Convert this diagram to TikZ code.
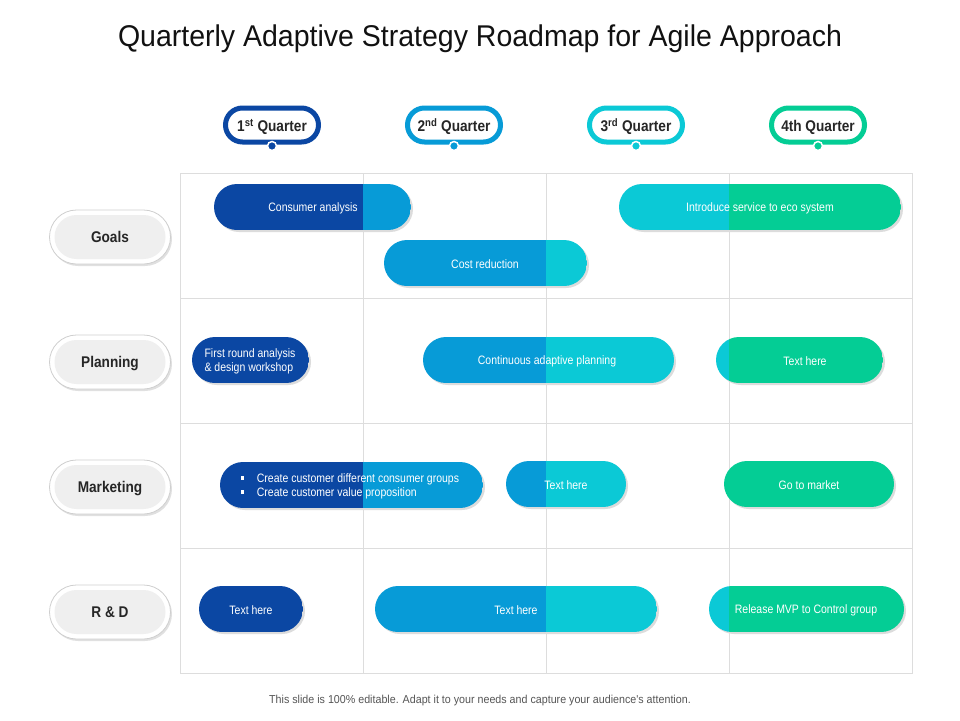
\documentclass[tikz,border=0pt]{standalone}
\usepackage{fontspec}
\setmainfont{Liberation Sans}
\newfontfamily\narrowfont[FakeStretch=0.86]{Liberation Sans}
\newfontfamily\titlefont[FakeStretch=0.95]{Liberation Sans}
\newfontfamily\footfont[FakeStretch=0.93]{Liberation Sans}
\newfontfamily\headfont[FakeStretch=0.88]{Liberation Sans}
\usetikzlibrary{shadows}
\definecolor{cdark}{HTML}{0B47A3}
\definecolor{cmed}{HTML}{079BD7}
\definecolor{ccyan}{HTML}{0BC9D6}
\definecolor{cgreen}{HTML}{04CD95}
\definecolor{gridc}{HTML}{DDDDDD}
\definecolor{shadowc}{HTML}{DCDCDC}
\definecolor{pillin}{HTML}{EFEFEF}
\definecolor{pillborder}{HTML}{CFCFCF}
\definecolor{titlec}{HTML}{111111}
\definecolor{footc}{HTML}{555555}
\tikzset{
  bartext/.style={text=white,font=\narrowfont\fontsize{12.2}{14}\selectfont,inner sep=0pt,align=left,yshift=-1pt},
  rowouter/.style={fill=white,draw=pillborder,line width=0.8pt,rounded corners=27pt,minimum width=121pt,minimum height=54pt,inner sep=0pt,
     drop shadow={shadow xshift=1.5pt,shadow yshift=-2pt,fill=black,opacity=0.12}},
  rowinner/.style={fill=pillin,rounded corners=22pt,minimum width=111pt,minimum height=44pt,inner sep=0pt,
     text height=11.2pt,text depth=0pt,
     font=\headfont\bfseries\fontsize{15.5}{17}\selectfont,text=black!85},
  qpill/.style={draw=#1,fill=white,line width=5pt,rounded corners=17pt,minimum width=93pt,minimum height=34pt,inner sep=0pt,
     text height=12.6pt,text depth=0pt,
     font=\headfont\bfseries\fontsize{15.5}{17}\selectfont,text=black!85},
  qdot/.style={circle,fill=#1,draw=white,line width=1.5pt,minimum size=9pt,inner sep=0pt},
  gridline/.style={draw=gridc,line width=1pt}
}
% #1 name, #2 x1, #3 x2, #4 split, #5 yc, #6 c1, #7 c2, #8 text x, #9 text
\newcommand\pillbar[9]{%
  \begin{scope}[shift={(0,#5)}]
    \fill[shadowc,rounded corners=23pt] (#2+2,-21) rectangle (#3+2,25);
    \begin{scope}
      \clip[rounded corners=23pt] (#2,-23) rectangle (#3,23);
      \fill[#6] (#2,-23) rectangle (#4,23);
      \fill[#7] (#4,-23) rectangle (#3,23);
    \end{scope}
    \node[bartext] (#1) at (#8,0) {#9};
  \end{scope}}
\begin{document}
\begin{tikzpicture}[x=1pt,y=-1pt]
\useasboundingbox (0,0) rectangle (960,720);
\fill[white] (0,0) rectangle (960,720);
% title
\node[font=\titlefont\fontsize{30}{33}\selectfont,text=titlec,inner sep=0pt] (title) at (480,39) {Quarterly Adaptive Strategy Roadmap for Agile Approach};
% grid
\draw[gridline] (180,173) rectangle (912,673);
\foreach \gx in {363,546,729} \draw[gridline] (\gx,173) -- (\gx,673);
\foreach \gy in {298,423,548} \draw[gridline] (180,\gy) -- (912,\gy);
% quarter headers
\node[qpill=cdark] (q1) at (272,125) {1\textsuperscript{st} Quarter};
\node[qpill=cmed] (q2) at (454,125) {2\textsuperscript{nd} Quarter};
\node[qpill=ccyan] (q3) at (636,125) {3\textsuperscript{rd} Quarter};
\node[qpill=cgreen] (q4) at (818,125) {4th Quarter};
\node[qdot=cdark] (q1d) at (272,146) {};
\node[qdot=cmed] (q2d) at (454,146) {};
\node[qdot=ccyan] (q3d) at (636,146) {};
\node[qdot=cgreen] (q4d) at (818,146) {};
% row labels
\node[rowouter] (r1o) at (110,237) {};
\node[rowinner] (r1) at (110,237) {Goals};
\node[rowouter] (r2o) at (110,362) {};
\node[rowinner] (r2) at (110,362) {Planning};
\node[rowouter] (r3o) at (110,487) {};
\node[rowinner] (r3) at (110,487) {Marketing};
\node[rowouter] (r4o) at (110,612) {};
\node[rowinner] (r4) at (110,612) {R \& D};
% bars
\pillbar{b1}{214}{411}{363}{207}{cdark}{cmed}{313}{Consumer analysis}
\pillbar{b2}{384}{587}{546}{263}{cmed}{ccyan}{485}{Cost reduction}
\pillbar{b3}{619}{901}{729}{207}{ccyan}{cgreen}{760}{Introduce service to eco system}
\pillbar{b4}{192}{309}{309}{360}{cdark}{cdark}{250}{First round analysis\\\& design workshop}
\pillbar{b5}{423}{674}{546}{360}{cmed}{ccyan}{547}{Continuous adaptive planning}
\pillbar{b6}{716}{883}{729}{360}{ccyan}{cgreen}{805}{Text here}
\pillbar{b7}{220}{483}{363}{485}{cdark}{cmed}{350}{\rule[2.5pt]{3.5pt}{3.5pt}\hspace{12.5pt}Create customer different consumer groups\\\rule[2.5pt]{3.5pt}{3.5pt}\hspace{12.5pt}Create customer value proposition}
\pillbar{b8}{506}{626}{546}{484}{cmed}{ccyan}{566}{Text here}
\pillbar{b9}{724}{894}{729}{484}{cgreen}{cgreen}{809}{Go to market}
\pillbar{b10}{199}{303}{303}{609}{cdark}{cdark}{251}{Text here}
\pillbar{b11}{375}{657}{546}{609}{cmed}{ccyan}{516}{Text here}
\pillbar{b12}{709}{904}{729}{609}{ccyan}{cgreen}{806}{Release MVP to Control group}
% footer
\node[font=\footfont\fontsize{11.5}{13}\selectfont,text=footc,inner sep=0pt] (foot) at (480,701) {This slide is 100\% editable. Adapt it to your needs and capture your audience's attention.};
\end{tikzpicture}
\end{document}
